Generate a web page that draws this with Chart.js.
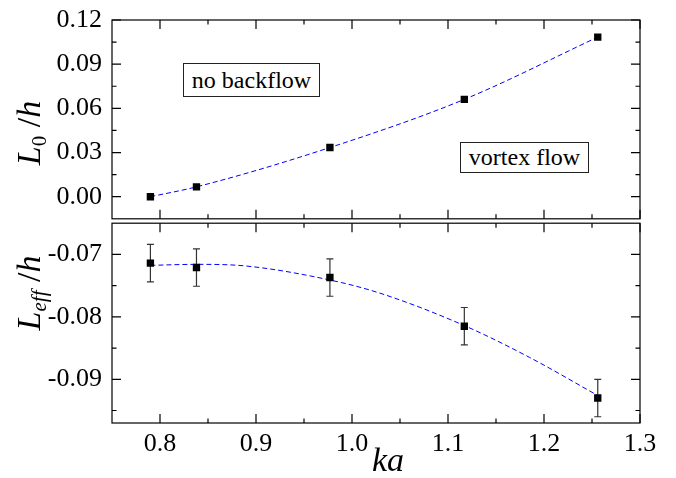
<!DOCTYPE html>
<html>
<head>
<meta charset="utf-8">
<script src="https://cdn.jsdelivr.net/npm/chart.js@4/dist/chart.umd.min.js"></script>
<style>
  html, body { margin:0; padding:0; background:#fff; }
  #wrap { position:relative; width:676px; height:478px; overflow:hidden;
          font-family:"Liberation Serif","Tinos","DejaVu Serif","Noto Serif","Times New Roman",serif; color:#000; }
  canvas { position:absolute; left:0; }
  #cTop { top:0; }
  #cBot { top:218px; }
  .ytitle { position:absolute; font-size:34px; line-height:1; white-space:nowrap;
            transform:translate(-50%,-50%) rotate(-90deg); }
  .ytitle i { font-style:italic; }
  .ytitle sub { font-size:0.62em; vertical-align:-0.28em; line-height:0; }
  #xtitle { position:absolute; left:388px; top:443px; font-size:34px; line-height:1;
            font-style:italic; transform:translateX(-50%); }
  .note { position:absolute; box-sizing:border-box; border:1px solid #222; background:#fff;
          font-size:24px; text-align:center; white-space:nowrap; }
</style>
</head>
<body>
<div id="wrap">
  <canvas id="cTop" width="676" height="224"></canvas>
  <canvas id="cBot" width="676" height="260"></canvas>
  <div class="ytitle" style="left:29px; top:133px;"><i>L</i><sub>0</sub> /<i>h</i></div>
  <div class="ytitle" style="left:29px; top:293px;"><i>L</i><sub><i>eff</i></sub> /<i>h</i></div>
  <div id="xtitle">ka</div>
  <div class="note" style="left:183px; top:63px; width:137px; height:34px; line-height:32px;">no backflow</div>
  <div class="note" style="left:460px; top:142px; width:129px; height:31px; line-height:29px;">vortex flow</div>
</div>

<script>
/* ---------- data ---------- */
const KA        = [0.790, 0.838, 0.977, 1.117, 1.256];
const L0        = [0.000, 0.0067, 0.0334, 0.0661, 0.1084];
const LEFF      = [-0.0714, -0.0721, -0.0737, -0.0815, -0.0930];
const LEFF_ERR  = [0.0030, 0.0030, 0.0030, 0.0030, 0.0030];

// dashed fit curves
const FIT_L0_KA   = [0.790, 0.838, 0.977, 1.117, 1.256];
const FIT_L0      = [0.000, 0.0067, 0.0334, 0.0661, 0.1084];
const FIT_LEFF_KA = [0.790, 0.838, 0.890, 0.977, 1.029, 1.117, 1.185, 1.256];
const FIT_LEFF    = [-0.07175, -0.07159, -0.07186, -0.0741, -0.0762, -0.0814, -0.0865, -0.0926];

// axes
const X_RANGE      = [0.75, 1.3];
const X_MAJOR      = [0.8, 0.9, 1.0, 1.1, 1.2, 1.3];
const X_MINOR      = [0.85, 0.95, 1.05, 1.15, 1.25];
const TOP_RANGE    = [-0.015, 0.12];
const TOP_MAJOR    = [0.00, 0.03, 0.06, 0.09, 0.12];
const TOP_MINOR    = [0.015, 0.045, 0.075, 0.105];
const BOT_RANGE    = [-0.097, -0.065];
const BOT_MAJOR    = [-0.09, -0.08, -0.07];
const BOT_MINOR    = [-0.095, -0.085, -0.075];

const FONT = "'Liberation Serif','Tinos','DejaVu Serif','Noto Serif','Times New Roman',serif";
const pts = (xs, ys) => xs.map((x, i) => ({x, y: ys[i]}));

/* ---------- frame, inward ticks and error bars ---------- */
const framePlugin = {
  id: 'frame',
  beforeDatasetsDraw(chart, args, o){
    if(!o.err) return;
    const ctx = chart.ctx, sx = chart.scales.x, sy = chart.scales.y;
    ctx.save();
    ctx.strokeStyle = '#333'; ctx.lineWidth = 1.2;
    o.errX.forEach((v, i) => {
      const px = sx.getPixelForValue(v);
      const y1 = sy.getPixelForValue(o.errY[i] + o.err[i]);
      const y2 = sy.getPixelForValue(o.errY[i] - o.err[i]);
      ctx.beginPath();
      ctx.moveTo(px, y1); ctx.lineTo(px, y2);
      ctx.moveTo(px - 3.5, y1); ctx.lineTo(px + 3.5, y1);
      ctx.moveTo(px - 3.5, y2); ctx.lineTo(px + 3.5, y2);
      ctx.stroke();
    });
    ctx.restore();
  },
  afterDraw(chart, args, o){
    const ctx = chart.ctx, a = chart.chartArea, sx = chart.scales.x, sy = chart.scales.y;
    ctx.save();
    ctx.strokeStyle = '#000'; ctx.lineWidth = 1.2;
    ctx.strokeRect(a.left, a.top, a.right - a.left, a.bottom - a.top);
    ctx.beginPath();
    const xt = (vals, len) => vals.forEach(v => {
      const p = sx.getPixelForValue(v);
      ctx.moveTo(p, a.bottom); ctx.lineTo(p, a.bottom - len);
      ctx.moveTo(p, a.top);    ctx.lineTo(p, a.top + len);
    });
    const yt = (vals, len) => vals.forEach(v => {
      const p = sy.getPixelForValue(v);
      ctx.moveTo(a.left, p);  ctx.lineTo(a.left + len, p);
      ctx.moveTo(a.right, p); ctx.lineTo(a.right - len, p);
    });
    xt(X_MAJOR, 9); xt(X_MINOR, 4.5);
    yt(o.yMajor, 9); yt(o.yMinor, 4.5);
    ctx.stroke();
    ctx.restore();
  }
};

function baseOptions(yRange, yMajor, yMinor, showX, pad){
  return {
    responsive:false, animation:false,
    layout:{padding:pad},
    plugins:{
      legend:{display:false}, tooltip:{enabled:false},
      frame:{yMajor, yMinor}
    },
    scales:{
      x:{
        type:'linear', min:X_RANGE[0], max:X_RANGE[1], display:showX,
        grid:{display:false, drawTicks:false}, border:{display:false},
        afterBuildTicks: s => { s.ticks = X_MAJOR.map(v => ({value:v})); },
        afterFit: s => {
          s.height = showX ? 55 : 0;
          s.paddingLeft = 0; s.paddingRight = 0;
        },
        ticks:{color:'#000', padding:6, font:{family:FONT, size:26}, callback: v => v.toFixed(1)}
      },
      y:{
        type:'linear', min:yRange[0], max:yRange[1],
        grid:{display:false, drawTicks:false}, border:{display:false},
        afterBuildTicks: s => { s.ticks = yMajor.map(v => ({value:v})); },
        afterFit: s => {
          s.width = 112;
          s.paddingTop = 0; s.paddingBottom = 0;
        },
        ticks:{color:'#000', padding:10, font:{family:FONT, size:26}, callback: v => v.toFixed(2)}
      }
    }
  };
}

const pointStyle = {showLine:false, pointStyle:'rect', pointRadius:5.2, pointBackgroundColor:'#000', pointBorderWidth:0};
const fitStyle   = {borderColor:'#0000ff', borderWidth:1, borderDash:[5,3], pointRadius:0,
                    cubicInterpolationMode:'monotone', fill:false};

new Chart(document.getElementById('cTop'), {
  type:'line',
  data:{datasets:[
    Object.assign({data:pts(KA, L0)}, pointStyle),
    Object.assign({data:pts(FIT_L0_KA, FIT_L0)}, fitStyle)
  ]},
  options: baseOptions(TOP_RANGE, TOP_MAJOR, TOP_MINOR, false, {left:0, top:20, right:36, bottom:3}),
  plugins:[framePlugin]
});

const botOpts = baseOptions(BOT_RANGE, BOT_MAJOR, BOT_MINOR, true, {left:0, top:3, right:36, bottom:0});
Object.assign(botOpts.plugins.frame, {errX:KA, errY:LEFF, err:LEFF_ERR});

new Chart(document.getElementById('cBot'), {
  type:'line',
  data:{datasets:[
    Object.assign({data:pts(KA, LEFF)}, pointStyle),
    Object.assign({data:pts(FIT_LEFF_KA, FIT_LEFF)}, fitStyle)
  ]},
  options: botOpts,
  plugins:[framePlugin]
});
</script>
</body>
</html>
